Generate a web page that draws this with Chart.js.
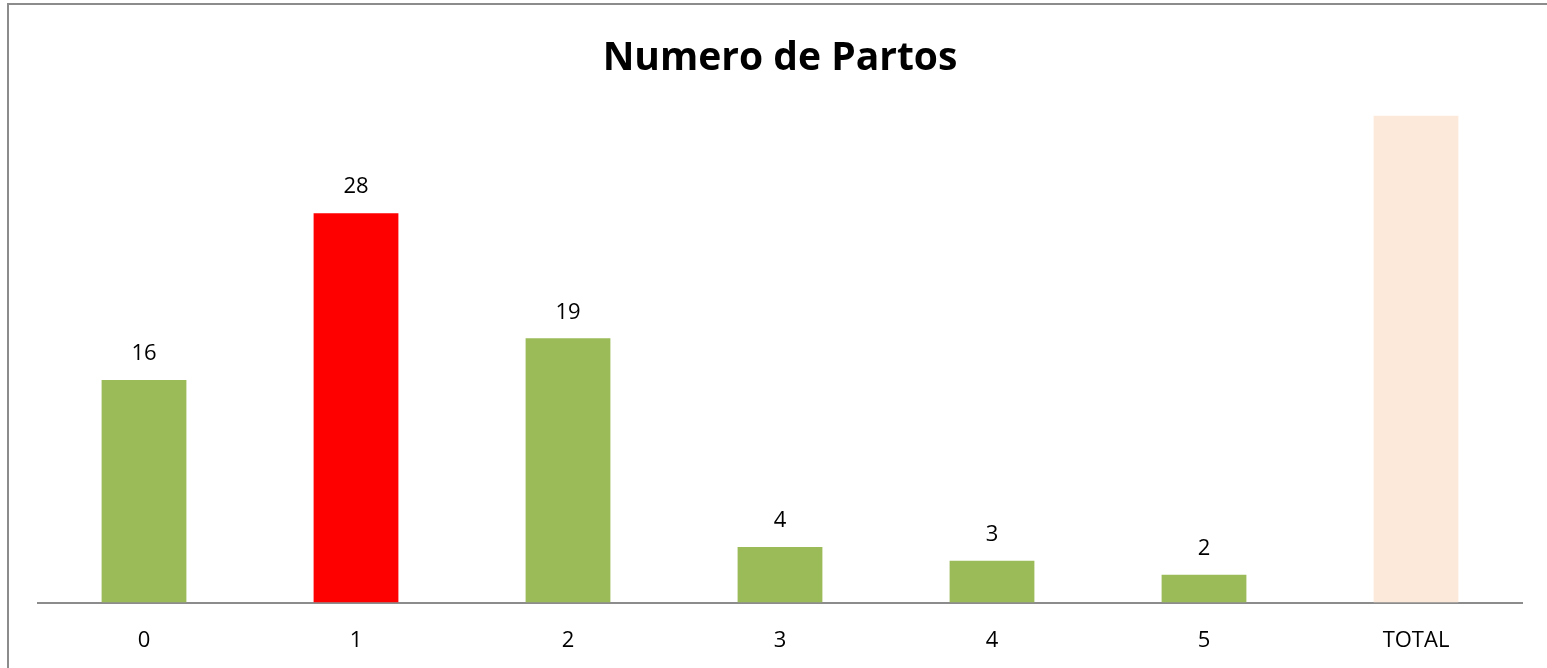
<!DOCTYPE html>
<html>
<head>
<meta charset="utf-8">
<script src="https://cdn.jsdelivr.net/npm/chart.js@4/dist/chart.umd.min.js"></script>
<style>
  html, body { margin: 0; padding: 0; background: #fff; overflow: hidden; }
  .frame {
    position: absolute; left: 7px; top: 3px; width: 1560px; height: 700px;
    border: 2px solid #8c8c8c; box-sizing: border-box;
  }
  .wrap { position: absolute; left: 0; top: 0; width: 1547px; height: 679px; }
</style>
</head>
<body>
<div class="frame"></div>
<div class="wrap"><canvas id="partosChart"></canvas></div>
<script>
const categories = ["0", "1", "2", "3", "4", "5", "TOTAL"];
const partos = [16, 28, 19, 4, 3, 2, 72];
const barColors = ["#9BBB59", "#FF0000", "#9BBB59", "#9BBB59", "#9BBB59", "#9BBB59", "#FDE9D9"];
const yMax = 35;

// value labels above the bars (hidden when the bar runs past the plot area)
const valueLabels = {
  id: "valueLabels",
  afterDatasetsDraw(chart) {
    const ctx = chart.ctx;
    const meta = chart.getDatasetMeta(0);
    ctx.save();
    ctx.font = "22px 'Open Sans'";
    ctx.fillStyle = "#000";
    ctx.textAlign = "center";
    ctx.textBaseline = "middle";
    meta.data.forEach((bar, i) => {
      if (bar.y < chart.chartArea.top) return;
      ctx.fillText(partos[i], bar.x, bar.y - 26);
    });
    ctx.restore();
  },
};

new Chart(document.getElementById("partosChart"), {
  type: "bar",
  data: {
    labels: categories,
    datasets: [
      {
        data: partos,
        backgroundColor: barColors,
        borderWidth: 0,
        categoryPercentage: 1,
        barPercentage: 0.4,
      },
    ],
  },
  options: {
    responsive: true,
    maintainAspectRatio: false,
    animation: false,
    layout: {
      padding: { left: 38, right: 25, top: 0, bottom: 0 },
    },
    plugins: {
      legend: { display: false },
      tooltip: { enabled: false },
      title: {
        display: true,
        text: "Numero de Partos",
        color: "#000",
        font: { family: "'Open Sans'", size: 39, weight: "bold" },
        padding: { top: 35, bottom: 34 },
      },
    },
    scales: {
      x: {
        grid: { display: false, drawTicks: false },
        border: { display: true, color: "#8c8c8c", width: 2 },
        ticks: {
          color: "#000",
          font: { family: "'Open Sans'", size: 22 },
          padding: 25,
        },
      },
      y: {
        display: false,
        min: 0,
        max: yMax,
      },
    },
  },
  plugins: [valueLabels],
});
</script>
</body>
</html>
